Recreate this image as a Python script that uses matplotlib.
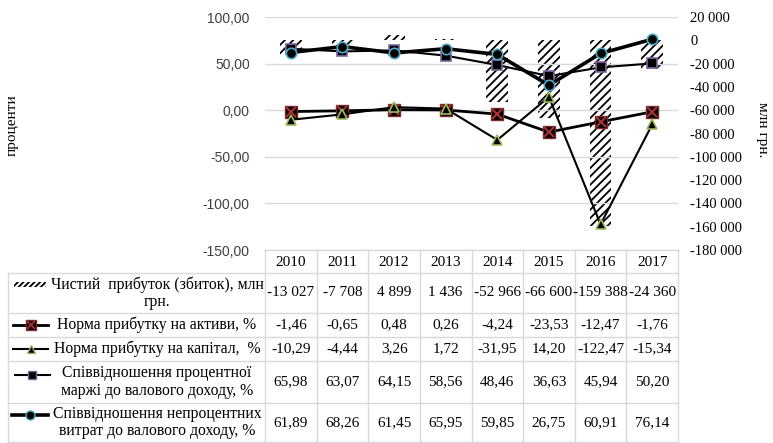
import matplotlib
matplotlib.use("Agg")
import matplotlib.pyplot as plt
from matplotlib.patches import Rectangle
import numpy as np

years = ["2010", "2011", "2012", "2013", "2014", "2015", "2016", "2017"]
net_profit = [-13027, -7708, 4899, 1436, -52966, -66600, -159388, -24360]
roa = [-1.46, -0.65, 0.48, 0.26, -4.24, -23.53, -12.47, -1.76]
roe = [-10.29, -4.44, 3.26, 1.72, -31.95, 14.20, -122.47, -15.34]
margin_ratio = [65.98, 63.07, 64.15, 58.56, 48.46, 36.63, 45.94, 50.20]
nonint_ratio = [61.89, 68.26, 61.45, 65.95, 59.85, 26.75, 60.91, 76.14]

labels = [
    "Чистий  прибуток (збиток), млн\nгрн.",
    "Норма прибутку на активи, %",
    "Норма прибутку на капітал,  %",
    "Співвідношення процентної\nмаржі до валового доходу, %",
    "Співвідношення непроцентних\nвитрат до валового доходу, %",
]
left_label = "проценти"
right_label = "млн грн."

W, H = 773, 443
fig = plt.figure(figsize=(W / 100, H / 100), dpi=100)
serif = "Liberation Serif"
sans = "Liberation Sans"
grid_c = "#d9d9d9"
plt.rcParams["hatch.linewidth"] = 1.3

# Table/background axes in pixel coordinates
axt = fig.add_axes([0, 0, 1, 1], zorder=0)
axt.set_xlim(0, W)
axt.set_ylim(H, 0)
axt.axis("off")

# plot area
L, R, T, B = 265, 678, 17, 250
ax = fig.add_axes([L / W, 1 - B / H, (R - L) / W, (B - T) / H], zorder=3)
ax2 = ax.twinx()
ax2.set_zorder(2)
ax.patch.set_visible(False)
ax2.patch.set_visible(False)

x = np.arange(len(years))
ax2.bar(x, net_profit, width=0.42, color="white", edgecolor="black",
        linewidth=0, hatch="////")
ax2.set_ylim(-180000, 20000)
ax2.set_yticks(np.arange(-180000, 20001, 20000))
ax2.set_yticklabels([f"{v:,}".replace(",", " ") for v in range(-180000, 20001, 20000)],
                    family=serif, fontsize=10.5)
ax2.tick_params(axis="y", length=0, pad=9)

ax.set_xlim(-0.5, len(years) - 0.5)
ax.set_ylim(-150, 100)
ax.set_yticks(np.arange(-150, 101, 50))
ax.set_yticklabels([f"{v:.2f}".replace(".", ",") for v in range(-150, 101, 50)],
                   family=sans, fontsize=10, color="#404040")
ax.tick_params(axis="y", length=0, pad=11)
ax.set_xticks([])
ax.grid(axis="y", color=grid_c, linewidth=1)
ax.set_axisbelow(True)
for a in (ax, ax2):
    for s in a.spines.values():
        s.set_visible(False)

# lines
ax.plot(x, roa, color="black", lw=2.0, marker="s", ms=8, mfc="black", mec="#7f2a2a", zorder=4)
ax.plot(x, roa, ls="none", marker="x", ms=7, mew=1.5, color="#a83232", zorder=4)
ax.plot(x, roe, color="black", lw=1.5, marker="^", ms=7, mfc="black", mec="#9bbb59", mew=1.2, zorder=5)
ax.plot(x, margin_ratio, color="black", lw=1.5, marker="s", ms=7.5, mfc="black", mec="#8064a2", mew=1.2, zorder=6)
ax.plot(x, nonint_ratio, color="black", lw=2.6, marker="o", ms=7.5, mfc="black", mec="#4bacc6", mew=1.2, zorder=7)

fig.text(12 / W, 1 - 125 / H, left_label, rotation=90, ha="center", va="center",
         family=serif, fontsize=11)
fig.text(763 / W, 1 - 130 / H, right_label, rotation=270, ha="center", va="center",
         family=serif, fontsize=11)

# table
col_w = (R - L) / len(years)
col_edges = [L + i * col_w for i in range(len(years) + 1)]
row_edges = [250, 273, 313, 337, 361, 403, 442]
lk = dict(color=grid_c, lw=1)
axt.plot([L, R], [row_edges[0], row_edges[0]], **lk)
for y in row_edges[1:]:
    axt.plot([8, R], [y, y], **lk)
for xe in col_edges:
    axt.plot([xe, xe], [row_edges[0], row_edges[-1]], **lk)
axt.plot([8, 8], [row_edges[1], row_edges[-1]], **lk)

tf = dict(family=serif, fontsize=11, ha="center", va="center")
for i, yr in enumerate(years):
    cx = L + (i + 0.5) * col_w
    axt.text(cx, (row_edges[0] + row_edges[1]) / 2 + 1, yr, **tf)

def fmt_int(v):
    return f"{v:,}".replace(",", " ")

def fmt_pct(v):
    return f"{v:.2f}".replace(".", ",")

rows = [
    [fmt_int(v) for v in net_profit],
    [fmt_pct(v) for v in roa],
    [fmt_pct(v) for v in roe],
    [fmt_pct(v) for v in margin_ratio],
    [fmt_pct(v) for v in nonint_ratio],
]
lf = dict(tf)
lf["fontsize"] = 11.3
for r, vals in enumerate(rows):
    cy = (row_edges[r + 1] + row_edges[r + 2]) / 2
    for i, s in enumerate(vals):
        cx = L + (i + 0.5) * col_w
        axt.text(cx, cy, s, **tf)
    axt.text(157, cy, labels[r], multialignment="center", linespacing=1.12, **lf)

# legend keys
ky = [(row_edges[k] + row_edges[k + 1]) / 2 for k in range(1, 6)]
axt.add_patch(Rectangle((14, ky[0] - 11), 32, 4.5, facecolor="white", edgecolor="black",
                        linewidth=0, hatch="//////"))
axt.plot([13, 48], [ky[1], ky[1]], color="black", lw=2.0)
axt.plot([30.5], [ky[1]], marker="s", ms=7, mfc="black", mec="#7f2a2a", color="black")
axt.plot([30.5], [ky[1]], marker="x", ms=6, mew=1.3, color="#a83232")
axt.plot([13, 48], [ky[2], ky[2]], color="black", lw=1.5)
axt.plot([30.5], [ky[2]], marker="^", ms=6, mfc="black", mec="#9bbb59", color="black")
axt.plot([15, 50], [ky[3] - 7, ky[3] - 7], color="black", lw=1.5)
axt.plot([32], [ky[3] - 7], marker="s", ms=6, mfc="black", mec="#8064a2", color="black")
axt.plot([12, 48], [ky[4] - 7.5, ky[4] - 7.5], color="black", lw=2.6)
axt.plot([30], [ky[4] - 7.5], marker="o", ms=6.5, mfc="black", mec="#4bacc6", color="black")

fig.savefig("out.png", dpi=100)
